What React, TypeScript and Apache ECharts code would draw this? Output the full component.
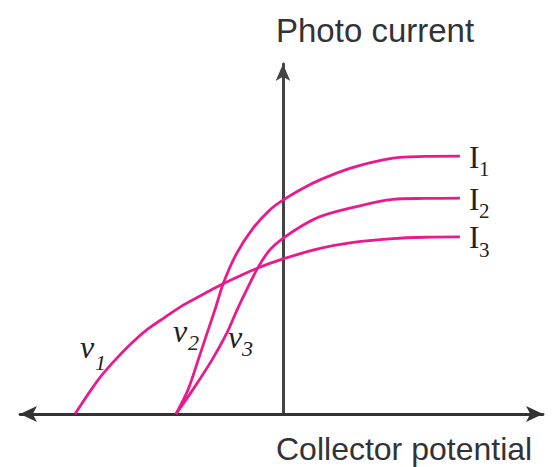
import React, { useEffect, useRef } from "react";
import * as echarts from "echarts";

const WIDTH = 553;
const HEIGHT = 467;

// Collector potential (V) and photo current (arb. units) for the three curves.
// I1: highest saturation current (stopping potential v2)
const potentialI1 = [-1.79, -1.59, -1.42, -1.27, -1.14, -0.99, -0.775, -0.5, -0.22, 0, 0.335, 0.62, 1.12, 1.84, 2.38, 2.96];
const currentI1 = [0, 0.69, 1.54, 2.31, 2.97, 3.77, 4.59, 5.31, 5.83, 6.11, 6.45, 6.69, 7.02, 7.31, 7.36, 7.37];
// I2: middle saturation current (stopping potential v3)
const potentialI2 = [-1.79, -1.51, -1.19, -0.94, -0.77, -0.61, -0.41, -0.22, 0, 0.34, 0.62, 1.12, 1.84, 2.38, 2.96];
const currentI2 = [0, 0.69, 1.54, 2.31, 2.97, 3.54, 4.21, 4.69, 5.02, 5.4, 5.64, 5.88, 6.13, 6.16, 6.17];
// I3: lowest saturation current (stopping potential v1)
const potentialI3 = [-3.48, -3.095, -2.81, -2.53, -2.26, -1.97, -1.69, -1.42, -1.14, -0.79, -0.42, 0, 0.62, 1.12, 1.84, 2.38, 2.96];
const currentI3 = [0, 0.97, 1.54, 2.03, 2.43, 2.77, 3.09, 3.34, 3.6, 3.89, 4.17, 4.43, 4.73, 4.89, 5.01, 5.05, 5.06];

const curveSubscripts = ["1", "2", "3"];
const stopSubscripts = ["1", "2", "3"];

const X_MIN = -4.4;
const X_MAX = 4.35;
const Y_MIN = 0;
const Y_MAX = 10;

const CURVE_COLOR = "#ea1a8c";
const AXIS_COLOR = "#333333";
const SANS = "'Liberation Sans', Arial, Helvetica, sans-serif";
const SERIF = "'Liberation Serif', 'Times New Roman', serif";

const zip = (xs: number[], ys: number[]) => xs.map((x, i) => [x, ys[i]]);

export default function App() {
  const ref = useRef<HTMLDivElement>(null);

  useEffect(() => {
    if (!ref.current) return;
    const chart = echarts.init(ref.current, null, { renderer: "svg" });

    const curves = [
      zip(potentialI1, currentI1),
      zip(potentialI2, currentI2),
      zip(potentialI3, currentI3),
    ];

    chart.setOption({
      animation: false,
      backgroundColor: "#ffffff",
      grid: { left: 20, right: 10, top: 64, bottom: 53, containLabel: false },
      xAxis: {
        type: "value",
        min: X_MIN,
        max: X_MAX,
        axisLine: {
          show: true,
          onZero: true,
          symbol: ["arrow", "arrow"],
          symbolSize: [12, 17],
          lineStyle: { color: AXIS_COLOR, width: 2.8 },
        },
        axisTick: { show: false },
        axisLabel: { show: false },
        splitLine: { show: false },
      },
      yAxis: {
        type: "value",
        min: Y_MIN,
        max: Y_MAX,
        axisLine: {
          show: true,
          onZero: true,
          symbol: ["none", "arrow"],
          symbolSize: [11, 17],
          lineStyle: { color: "#444444", width: 3 },
        },
        axisTick: { show: false },
        axisLabel: { show: false },
        splitLine: { show: false },
      },
      series: curves.map((data, i) => ({
        name: "I" + curveSubscripts[i],
        type: "line",
        data,
        smooth: 0.33,
        showSymbol: false,
        silent: true,
        z: 3,
        lineStyle: { color: CURVE_COLOR, width: 2.8 },
      })),
    });

    // Intensity labels sit just past the end of each curve
    const endLabels: any[] = [];
    curves.forEach((data, i) => {
      const p = chart.convertToPixel({ gridIndex: 0 }, data[data.length - 1]) as number[];
      endLabels.push(
        {
          type: "text",
          x: p[0] + 9,
          y: p[1] + 1,
          style: { text: "I", font: `31px ${SERIF}`, fill: "#222", verticalAlign: "middle" },
        },
        {
          type: "text",
          x: p[0] + 19,
          y: p[1] + 13,
          style: { text: curveSubscripts[i], font: `21px ${SERIF}`, fill: "#222", verticalAlign: "middle" },
        }
      );
    });

    // Stopping-potential labels v1, v2, v3
    const stopPos = [
      [80, 347, 95, 362],
      [173, 331, 188, 342],
      [228, 337, 242, 348],
    ];
    const stopLabels: any[] = [];
    stopPos.forEach((s, i) => {
      stopLabels.push(
        {
          type: "text",
          x: s[0],
          y: s[1],
          style: { text: "v", font: `italic 32px ${SERIF}`, fill: "#222", verticalAlign: "middle" },
        },
        {
          type: "text",
          x: s[2],
          y: s[3],
          style: { text: stopSubscripts[i], font: `italic 22px ${SERIF}`, fill: "#222", verticalAlign: "middle" },
        }
      );
    });

    chart.setOption({
      graphic: [
        {
          type: "text",
          x: 276,
          y: 30,
          style: { text: "Photo current", font: `33px ${SANS}`, fill: "#333", verticalAlign: "middle" },
        },
        {
          type: "text",
          x: 276,
          y: 449,
          style: { text: "Collector potential", font: `32px ${SANS}`, fill: "#333", verticalAlign: "middle" },
        },
        ...endLabels,
        ...stopLabels,
      ],
    });

    return () => chart.dispose();
  }, []);

  return (
    <div
      ref={ref}
      style={{ position: "fixed", left: 0, top: 0, width: WIDTH, height: HEIGHT, background: "#fff" }}
    />
  );
}
